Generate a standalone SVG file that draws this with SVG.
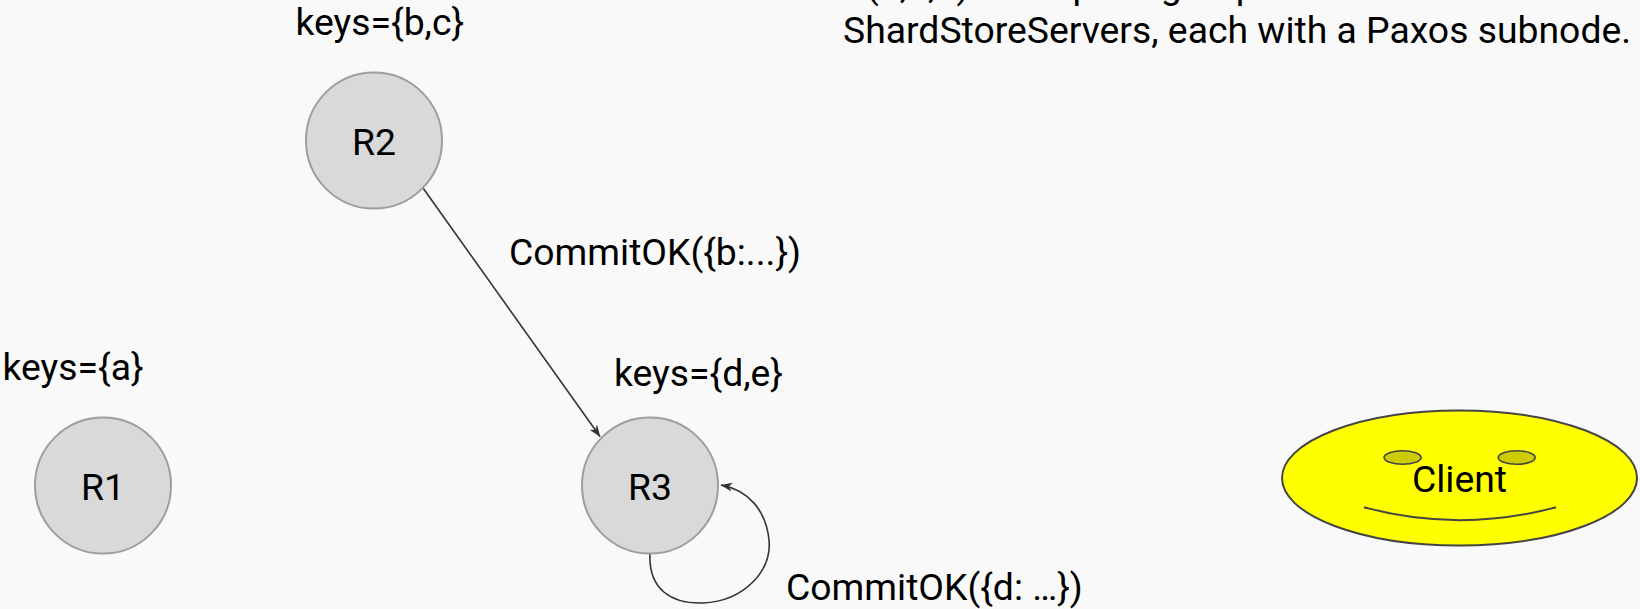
<svg xmlns="http://www.w3.org/2000/svg" width="1640" height="609" viewBox="0 0 1640 609">
  <style>
    text { font-family: Roboto, "Liberation Sans", sans-serif; font-size: 37.33px; fill: #000; }
    .replica { fill: #d9d9d9; stroke: #9e9e9e; stroke-width: 2; }
    .mid { text-anchor: middle; }
    .edge { fill: none; stroke: #333; stroke-width: 1.6; }
    .face { fill: #ffff00; stroke: #444; stroke-width: 2; }
    .eye { fill: #cccc00; stroke: #444; stroke-width: 1.6; }
    .smile { fill: none; stroke: #444; stroke-width: 2; }
  </style>
  <defs>
    <marker id="arrow" viewBox="0 0 12 10" refX="11.5" refY="5" markerWidth="12" markerHeight="10" markerUnits="userSpaceOnUse" orient="auto">
      <path d="M0,0.5 L12,5 L0,9.5 L3.5,5 Z" fill="#333"/>
    </marker>
  </defs>

  <rect width="1640" height="609" fill="#f9f9f9"/>

  <!-- caption, top line runs off the top edge -->
  <g id="caption">
    <text x="843" y="-2.5">R(1,2,3) are replica groups of</text>
    <text x="843" y="42.5">ShardStoreServers, each with a Paxos subnode.</text>
  </g>

  <g id="connectors">
    <path class="edge" d="M423,188 L600,436.5" marker-end="url(#arrow)"/>
    <path class="edge" d="M650,553 C648,590 672,604 703,603 C745,601 772,570 769,540 C766,510 748,490 721,485" marker-end="url(#arrow)"/>
    <text x="509" y="264.5">CommitOK({b:...})</text>
    <text x="786" y="599.5">CommitOK({d: …})</text>
  </g>

  <g id="R1">
    <text x="2.5" y="379.5">keys={a}</text>
    <circle class="replica" cx="103" cy="485.5" r="68"/>
    <text class="mid" x="103" y="499.5">R1</text>
  </g>

  <g id="R2">
    <text x="295.5" y="34.5">keys={b,c}</text>
    <circle class="replica" cx="374" cy="140.5" r="68"/>
    <text class="mid" x="374" y="154.5">R2</text>
  </g>

  <g id="R3">
    <text x="614" y="386">keys={d,e}</text>
    <circle class="replica" cx="650" cy="485.5" r="68"/>
    <text class="mid" x="650" y="499.5">R3</text>
  </g>

  <g id="Client">
    <ellipse class="face" cx="1459.5" cy="478" rx="177.5" ry="67.5"/>
    <ellipse class="eye" cx="1402.6" cy="457.5" rx="18.5" ry="6.8"/>
    <ellipse class="eye" cx="1516.7" cy="457.5" rx="18.5" ry="6.8"/>
    <path class="smile" d="M1364,507.3 Q1460,533 1556,507.3"/>
    <text class="mid" x="1459.5" y="491.7">Client</text>
  </g>
</svg>
